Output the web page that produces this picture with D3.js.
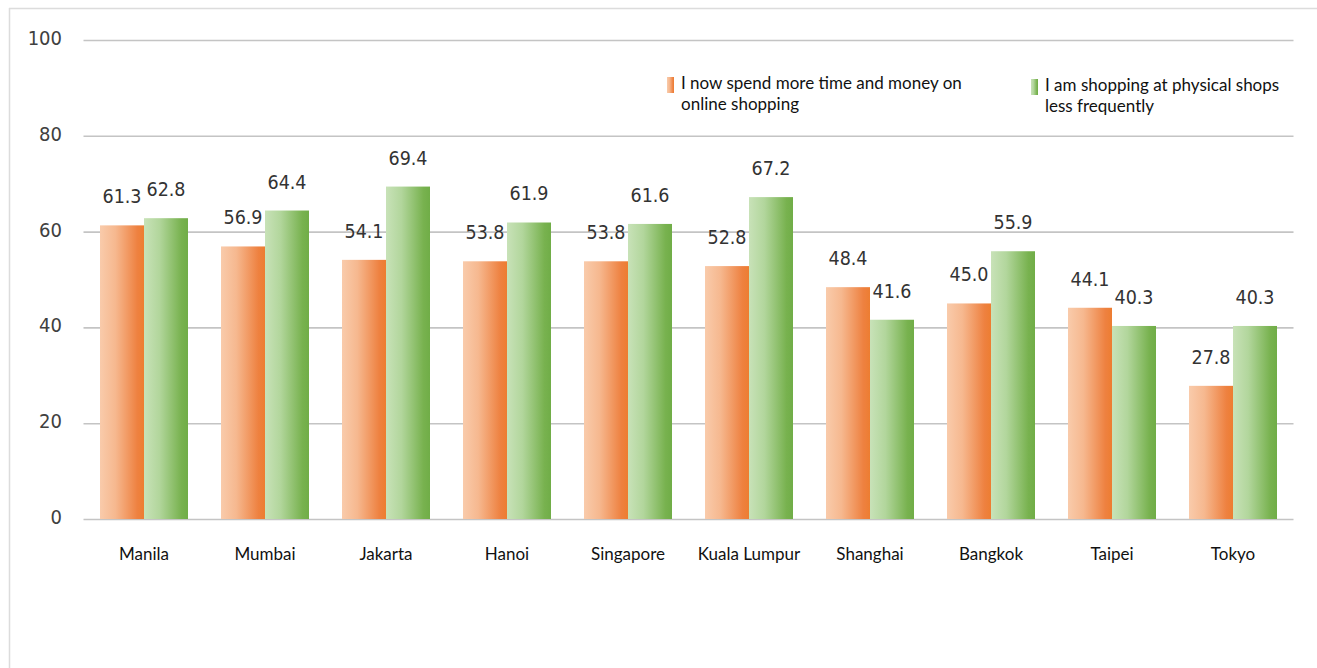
<!DOCTYPE html>
<html>
<head>
    <meta charset="utf-8">
    <!-- Load d3.js -->
    <script src="https://d3js.org/d3.v7.min.js"></script>
    <style>
        body { margin: 0; background: #fff; }
    </style>
</head>
<body>
<div id="my_dataviz"></div>
<script>
    // data
    const cities = ["Manila", "Mumbai", "Jakarta", "Hanoi", "Singapore", "Kuala Lumpur", "Shanghai", "Bangkok", "Taipei", "Tokyo"];
    const onlineMore = [61.3, 56.9, 54.1, 53.8, 53.8, 52.8, 48.4, 45.0, 44.1, 27.8];
    const physicalLess = [62.8, 64.4, 69.4, 61.9, 61.6, 67.2, 41.6, 55.9, 40.3, 40.3];
    const seriesNames = [
        ["I now spend more time and money on", "online shopping"],
        ["I am shopping at physical shops", "less frequently"]
    ];
    const yTicks = [0, 20, 40, 60, 80, 100];
</script>
<script>
    const W = 1317, H = 668;
    const plotL = 83.5, plotR = 1293.5, plotT = 40, plotB = 519;
    const numFont = "'Liberation Sans Narrow', 'DejaVu Sans Condensed', sans-serif";
    const txtFont = "Lato, 'Open Sans', sans-serif";

    const svg = d3.select("#my_dataviz")
        .append("svg")
        .attr("width", W)
        .attr("height", H);

    // frame lines (top + left only)
    svg.append("line").attr("x1", 9).attr("x2", W).attr("y1", 8.5).attr("y2", 8.5)
        .attr("stroke", "#dcdcdc").attr("stroke-width", 1.5);
    svg.append("line").attr("x1", 9.5).attr("x2", 9.5).attr("y1", 8).attr("y2", H)
        .attr("stroke", "#dcdcdc").attr("stroke-width", 1.5);

    // gradients
    const defs = svg.append("defs");
    function grad(id, stops) {
        const g = defs.append("linearGradient").attr("id", id)
            .attr("x1", "0%").attr("x2", "100%").attr("y1", "0%").attr("y2", "0%");
        stops.forEach(s => g.append("stop").attr("offset", s[0]).attr("stop-color", s[1]));
    }
    grad("gOrange", [["0%", "#f9cbab"], ["35%", "#f6b88f"], ["85%", "#ee8140"], ["100%", "#ed7d31"]]);
    grad("gGreen", [["0%", "#c8e2b8"], ["35%", "#b2d69c"], ["85%", "#78b24f"], ["100%", "#70ad47"]]);

    // scales
    const x = d3.scaleBand()
        .domain(cities)
        .range([plotL, plotR])
        .paddingInner(33 / 121)
        .paddingOuter(33 / 242);

    const xSub = d3.scaleBand()
        .domain([0, 1])
        .range([0, x.bandwidth()]);

    const y = d3.scaleLinear()
        .domain([0, 100])
        .range([plotB, plotT]);

    // gridlines
    svg.append("g")
        .attr("transform", "translate(" + plotL + ",0)")
        .call(d3.axisLeft(y).tickValues(yTicks).tickSize(-(plotR - plotL)).tickFormat(""))
        .call(g => g.select(".domain").remove())
        .call(g => g.selectAll(".tick line").attr("stroke", "#c4c4c4").attr("stroke-width", 1.6));

    // y labels
    svg.append("g")
        .selectAll("text")
        .data(yTicks)
        .enter()
        .append("text")
        .attr("x", 62)
        .attr("y", d => y(d) - 2)
        .attr("dy", "0.35em")
        .attr("text-anchor", "end")
        .style("font-family", numFont)
        .style("font-size", "20px")
        .style("fill", "#404040")
        .text(d => d);

    // bars
    const rows = cities.map((c, i) => ({city: c, vals: [onlineMore[i], physicalLess[i]]}));
    const fills = ["url(#gOrange)", "url(#gGreen)"];

    const groups = svg.append("g")
        .selectAll("g")
        .data(rows)
        .enter()
        .append("g")
        .attr("transform", d => "translate(" + x(d.city) + ",0)");

    groups.selectAll("rect")
        .data(d => d.vals.map((v, k) => ({v: v, k: k})))
        .enter()
        .append("rect")
        .attr("x", d => xSub(d.k))
        .attr("width", xSub.bandwidth())
        .attr("y", d => y(d.v))
        .attr("height", d => y(0) - y(d.v))
        .style("fill", d => fills[d.k]);

    groups.selectAll("text.val")
        .data(d => d.vals.map((v, k) => ({v: v, k: k})))
        .enter()
        .append("text")
        .attr("class", "val")
        .attr("x", d => xSub(d.k) + xSub.bandwidth() / 2)
        .attr("y", d => y(d.v) - 22)
        .attr("text-anchor", "middle")
        .style("font-family", numFont)
        .style("font-size", "19.5px")
        .style("fill", "#333")
        .text(d => d.v.toFixed(1));

    // x labels
    svg.append("g")
        .selectAll("text")
        .data(cities)
        .enter()
        .append("text")
        .attr("x", d => x(d) + x.bandwidth() / 2)
        .attr("y", 560)
        .attr("text-anchor", "middle")
        .style("font-family", txtFont)
        .style("font-size", "17px")
        .style("fill", "#111")
        .text(d => d);

    // legend
    const legendPos = [[667, 77], [1031, 79]];
    const legend = svg.append("g")
        .selectAll("g")
        .data(seriesNames)
        .enter()
        .append("g")
        .attr("transform", (d, i) => "translate(" + legendPos[i][0] + "," + legendPos[i][1] + ")");

    legend.append("rect")
        .attr("width", 7)
        .attr("height", 16)
        .style("fill", (d, i) => fills[i]);

    legend.append("text")
        .attr("x", 14)
        .attr("y", 12)
        .style("font-family", txtFont)
        .style("font-size", "17px")
        .style("fill", "#111")
        .selectAll("tspan")
        .data(d => d)
        .enter()
        .append("tspan")
        .attr("x", 14)
        .attr("dy", (d, j) => j === 0 ? 0 : 21)
        .text(d => d);
</script>
</body>
</html>
